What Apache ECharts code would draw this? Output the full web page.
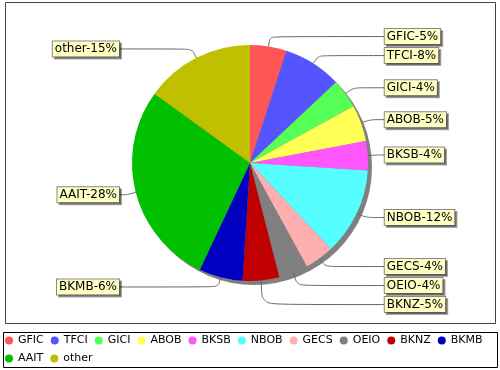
<!DOCTYPE html>
<html><head><meta charset="utf-8">
<script src="https://cdn.jsdelivr.net/npm/echarts@6/dist/echarts.min.js"></script>
<style>html,body{margin:0;padding:0;background:#fff}#c{width:500px;height:370px}</style>
</head><body><div id="c"></div>
<script>
const categories = ['GFIC','TFCI','GICI','ABOB','BKSB','NBOB','GECS','OEIO','BKNZ','BKMB','AAIT','other'];
const percentValues = [5, 8, 4, 5, 4, 12, 4, 4, 5, 6, 28, 15];
const sliceColors = ['#FF5555','#5555FF','#55FF55','#FFFF55','#FF55FF','#55FFFF','#FFAFAF','#808080','#C00000','#0000C0','#00C000','#C0C000'];

const chart = echarts.init(document.getElementById('c'), null, {renderer: 'canvas'});
const pieData = categories.map((name, i) => ({name: name, value: percentValues[i], itemStyle: {color: sliceColors[i]}}));

chart.setOption({
  animation: false,
  backgroundColor: '#fff',
  graphic: [
    {type: 'rect', shape: {x: 5.5, y: 2.5, width: 490, height: 321}, style: {fill: 'none', stroke: '#444', lineWidth: 1}, z: -10, silent: true},
    {type: 'rect', shape: {x: 3.5, y: 332.5, width: 494, height: 35}, style: {fill: 'none', stroke: '#000', lineWidth: 1}, z: -10, silent: true}
  ],
  legend: {
    data: categories,
    left: 5, top: 335,
    width: 490,
    orient: 'horizontal',
    icon: 'circle',
    itemWidth: 8, itemHeight: 8,
    itemGap: 7,
    padding: 0,
    textStyle: {fontFamily: 'DejaVu Sans', fontSize: 11, lineHeight: 11, color: '#000'}
  },
  series: [
    {
      type: 'pie', silent: true,
      center: [254, 167], radius: 118,
      data: [{name: 'shadow', value: 1, itemStyle: {color: '#808080'}}],
      label: {show: false}, labelLine: {show: false},
      z: 1
    },
    {
      type: 'pie',
      center: [250, 163], radius: 118,
      startAngle: 90, clockwise: true,
      data: pieData,
      itemStyle: {borderWidth: 0},
      label: {
        show: true, position: 'outer', alignTo: 'labelLine',
        formatter: '{b}-{c}%',
        fontFamily: 'DejaVu Sans', fontSize: 12, color: '#000',
        backgroundColor: '#FFFFC4', borderColor: '#888', borderWidth: 1,
        padding: [2, 2, 1, 2],
        shadowColor: 'rgba(0,0,0,0.35)', shadowOffsetX: 2, shadowOffsetY: 2, shadowBlur: 0,
        distanceToLabelLine: 0
      },
      labelLine: {show: true, length: 10, length2: 7, smooth: 0.3, lineStyle: {color: '#666', width: 1}},
      z: 2
    }
  ]
});
</script></body></html>
